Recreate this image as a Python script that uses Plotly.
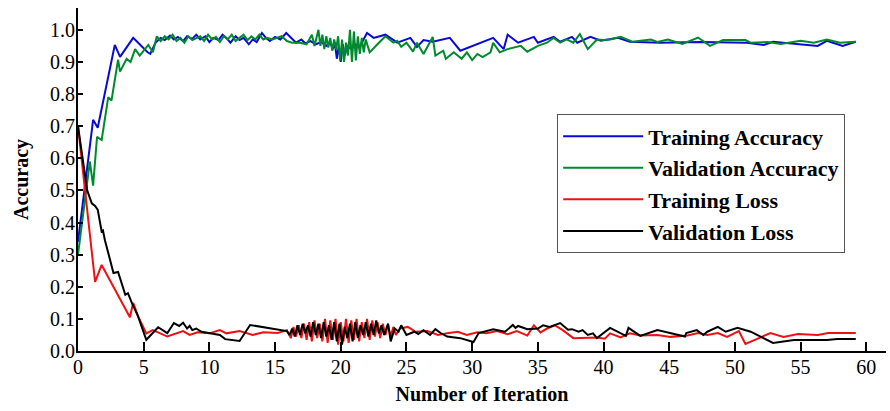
import plotly.graph_objects as go

# ---- data ----
train_acc_x = [0, 1.15, 1.5, 2.8, 3.2, 4.2, 5.3, 5.5, 5.9, 6.3, 6.6, 7.0, 7.3, 7.6, 8.0, 8.3, 8.7, 9.0, 9.3, 9.7,
               10.0, 10.3, 10.7, 11.0, 11.3, 11.6, 12.0, 12.3, 12.6, 13.0, 13.3, 13.6, 14.0, 14.3, 14.6, 15.0, 15.4,
               15.85, 16.6, 17.0, 17.3, 17.7, 18.1, 18.5, 18.9, 19.2, 19.4, 19.55, 19.7, 19.85, 20.0, 20.15, 20.3,
               20.5, 20.8, 21.1, 21.4, 22.0, 22.5, 23.4, 24.3, 25.3, 25.8, 26.3, 27.0, 28.3, 29.1, 31.6, 32.4, 32.7,
               33.5, 34.7, 35.0, 36.2, 36.7, 37.6, 38.0, 39.0, 39.8, 41.1, 42.0, 44.3, 47.4, 50.9, 52.2, 52.9, 56.3,
               57.0, 58.2, 59.2]
train_acc_y = [0.34, 0.72, 0.695, 0.953, 0.916, 0.975, 0.93, 0.925, 0.96, 0.975, 0.968, 0.982, 0.97, 0.978, 0.965,
               0.98, 0.972, 0.985, 0.97, 0.98, 0.962, 0.975, 0.968, 0.985, 0.975, 0.96, 0.98, 0.968, 0.975, 0.955,
               0.97, 0.962, 0.99, 0.975, 0.965, 0.978, 0.97, 0.99, 0.96, 0.97, 0.958, 0.965, 0.955, 0.962, 0.95,
               0.96, 0.94, 0.96, 0.91, 0.95, 0.90, 0.955, 0.92, 0.95, 0.94, 0.955, 0.945, 0.99, 0.975, 0.985, 0.96,
               0.975, 0.947, 0.968, 0.963, 0.975, 0.935, 0.975, 0.94, 0.985, 0.96, 0.978, 0.96, 0.978, 0.963, 0.978,
               0.96, 0.978, 0.966, 0.975, 0.963, 0.96, 0.962, 0.96, 0.953, 0.963, 0.95, 0.966, 0.95, 0.963]

val_acc_x = [0, 0.9, 1.15, 1.45, 1.8, 2.3, 2.55, 3.05, 3.2, 3.7, 4.0, 4.35, 4.7, 5.35, 5.7, 6.0, 6.3, 6.6, 6.9,
             7.2, 7.5, 7.8, 8.1, 8.4, 8.7, 9.0, 9.3, 9.6, 9.9, 10.2, 10.5, 10.8, 11.1, 11.4, 11.7, 12.0, 12.3, 12.6,
             12.9, 13.2, 13.5, 13.8, 14.1, 14.4, 14.8, 15.2, 15.5, 15.9, 16.3, 16.9, 17.4, 17.8, 18.0,
             18.3, 18.45, 18.6, 18.75, 18.9, 19.05, 19.2, 19.35, 19.5, 19.65, 19.8, 19.95, 20.1, 20.25, 20.4, 20.55,
             20.7, 20.85, 21.0, 21.15, 21.3, 21.45, 21.6, 21.75, 21.9, 22.2, 22.9, 23.4, 24.0, 24.3, 24.6, 25.0,
             25.5, 25.8, 26.3, 26.7, 27.0, 27.2, 27.8, 28.0, 28.6, 29.2, 29.6, 30.0, 30.4, 30.8, 31.4, 31.6, 32.1,
             32.7, 33.7, 34.2, 35.0, 35.7, 36.2, 36.7, 37.2, 37.7, 38.2, 38.8, 39.5, 40.0, 40.5, 41.3, 42.2, 43.6,
             44.1, 44.9, 46.0, 47.2, 48.1, 49.1, 50.8, 51.2, 52.5, 53.5, 55.0, 56.0, 57.0, 58.0, 59.2]
val_acc_y = [0.30, 0.59, 0.515, 0.667, 0.657, 0.79, 0.78, 0.907, 0.87, 0.91, 0.90, 0.94, 0.92, 0.953, 0.93, 0.98,
             0.965, 0.98, 0.97, 0.985, 0.965, 0.975, 0.96, 0.98, 0.968, 0.975, 0.98, 0.965, 0.985, 0.97, 0.978,
             0.962, 0.98, 0.97, 0.985, 0.965, 0.975, 0.985, 0.968, 0.98, 0.97, 0.985, 0.97, 0.975, 0.97, 0.975,
             0.98, 0.965, 0.96, 0.96, 0.955, 0.985, 0.95,
             1.0, 0.95, 0.985, 0.94, 0.98, 0.945, 0.975, 0.935, 0.97, 0.94, 0.98, 0.905, 0.97, 0.90, 0.96, 0.92,
             1.0, 0.90, 0.995, 0.905, 0.98, 0.925, 0.975, 0.93, 0.97, 0.93, 0.96, 0.98, 0.96, 0.966, 0.947, 0.96,
             0.932, 0.96, 0.925, 0.955, 0.978, 0.92, 0.935, 0.91, 0.93, 0.91, 0.93, 0.906, 0.925, 0.915, 0.93, 0.96,
             0.93, 0.94, 0.95, 0.932, 0.95, 0.96, 0.975, 0.96, 0.97, 0.96, 0.987, 0.94, 0.97, 0.968, 0.97, 0.978,
             0.963, 0.97, 0.962, 0.97, 0.956, 0.976, 0.95, 0.968, 0.968, 0.96, 0.962, 0.956, 0.966, 0.96, 0.97,
             0.96, 0.963]

train_loss_x = [0, 1.3, 1.8, 3.95, 4.2, 4.55, 5.2, 5.7, 6.8, 8.0, 8.5, 9.1, 10.0, 10.8, 11.3, 12.3, 13.3, 14.1,
                15.2, 15.9, 16.2, 16.4, 16.6, 16.8, 17.0, 17.2, 17.4, 17.6, 17.8, 18.0, 18.2, 18.4, 18.6, 18.8, 19.0,
                19.2, 19.4, 19.6, 19.8, 20.0, 20.2, 20.4, 20.6, 20.8, 21.0, 21.2, 21.4, 21.6, 21.8, 22.0, 22.2, 22.4,
                22.6, 22.8, 23.0, 23.2, 23.4, 23.6, 23.8, 24.0, 24.2, 24.5, 25.1, 25.7, 26.6, 27.4, 28.1, 28.9, 29.6,
                30.4, 31.1, 31.9, 32.7, 33.4, 34.2, 34.7, 35.2, 35.7, 36.3, 36.9, 37.7, 38.8, 39.5, 40.1, 40.5, 41.3,
                42.0, 42.8, 44.1, 45.1, 46.4, 47.2, 47.9, 48.7, 49.4, 50.3, 50.8, 51.7, 52.7, 53.7, 54.8, 56.3, 57.1,
                59.2]
train_loss_y = [0.70, 0.215, 0.268, 0.105, 0.15, 0.11, 0.055, 0.065, 0.045, 0.062, 0.05, 0.058, 0.055, 0.065,
                0.055, 0.062, 0.05, 0.058, 0.056, 0.065, 0.04, 0.075, 0.045, 0.08, 0.04, 0.085, 0.035, 0.09, 0.03,
                0.095, 0.04, 0.085, 0.03, 0.10, 0.025, 0.095, 0.035, 0.10, 0.02, 0.09, 0.03, 0.10, 0.025, 0.095,
                0.035, 0.10, 0.03, 0.09, 0.04, 0.10, 0.035, 0.095, 0.045, 0.09, 0.04, 0.085, 0.05, 0.08, 0.045,
                0.075, 0.05, 0.07, 0.075, 0.06, 0.062, 0.05, 0.055, 0.06, 0.05, 0.058, 0.055, 0.062, 0.052, 0.062,
                0.048, 0.08, 0.058, 0.07, 0.08, 0.065, 0.04, 0.04, 0.042, 0.038, 0.055, 0.042, 0.055, 0.048, 0.05,
                0.044, 0.048, 0.056, 0.05, 0.056, 0.044, 0.062, 0.022, 0.038, 0.056, 0.044, 0.053, 0.05, 0.056,
                0.056]

val_loss_x = [0, 0.7, 1.05, 1.3, 1.5, 1.8, 1.9, 2.05, 2.7, 3.05, 3.6, 3.8, 4.1, 4.3, 4.55, 5.2, 6.1, 6.8, 7.3,
              7.7, 8.0, 8.3, 8.5, 8.7, 9.0, 9.4, 10.0, 10.8, 11.2, 12.3, 13.1, 15.9, 16.1,
              16.3, 16.5, 16.7, 16.9, 17.1, 17.3, 17.5, 17.7, 17.9, 18.1, 18.3, 18.5, 18.7, 18.9, 19.1, 19.3, 19.5,
              19.7, 19.9, 20.1, 20.3, 20.5, 20.7, 20.9, 21.1, 21.3, 21.5, 21.7, 21.9, 22.1, 22.3, 22.5, 22.7, 22.9,
              23.1, 23.3, 23.6, 23.8, 24.1, 24.4, 24.6, 25.0, 25.6, 25.9, 26.3, 26.8, 27.2, 27.6, 28.1, 29.1, 30.1,
              30.5, 30.9, 31.6, 32.5, 33.1, 33.3, 33.5, 34.2, 35.0, 35.4, 35.9, 36.7, 37.3, 37.6, 38.1, 38.4, 38.8,
              39.2, 39.5, 40.5, 41.7, 41.9, 42.8, 44.1, 45.1, 46.2, 46.3, 47.1, 47.6, 47.9, 48.7, 49.3, 50.2, 51.2,
              52.9, 54.5, 57.0, 57.8, 59.2]
val_loss_y = [0.70, 0.50, 0.46, 0.452, 0.44, 0.372, 0.375, 0.345, 0.243, 0.246, 0.175, 0.18, 0.15, 0.13, 0.11,
              0.035, 0.074, 0.056, 0.087, 0.078, 0.088, 0.07, 0.078, 0.065, 0.07, 0.06, 0.056, 0.05, 0.037, 0.031,
              0.081, 0.062, 0.05,
              0.07, 0.045, 0.08, 0.05, 0.085, 0.055, 0.08, 0.045, 0.09, 0.05, 0.085, 0.04, 0.09, 0.045, 0.08, 0.035,
              0.09, 0.03, 0.085, 0.02, 0.075, 0.04, 0.085, 0.03, 0.09, 0.04, 0.08, 0.05, 0.09, 0.045, 0.085, 0.05,
              0.095, 0.055, 0.08, 0.05, 0.085, 0.03, 0.07, 0.06, 0.08, 0.05, 0.06, 0.053, 0.065, 0.05, 0.068, 0.056,
              0.045, 0.04, 0.028, 0.056, 0.06, 0.068, 0.06, 0.081, 0.072, 0.078, 0.068, 0.07, 0.08, 0.075, 0.087,
              0.066, 0.068, 0.06, 0.065, 0.05, 0.055, 0.04, 0.072, 0.047, 0.072, 0.047, 0.065, 0.056, 0.045, 0.056,
              0.065, 0.05, 0.06, 0.075, 0.06, 0.072, 0.06, 0.025, 0.034, 0.034, 0.037, 0.037]

series_names = ["Training Accuracy", "Validation Accuracy", "Training Loss", "Validation Loss"]
series_colors = ["#0a0ad2", "#008a2e", "#ee1111", "#000000"]
x_ticks = [0, 5, 10, 15, 20, 25, 30, 35, 40, 45, 50, 55, 60]
y_ticks = [0.0, 0.1, 0.2, 0.3, 0.4, 0.5, 0.6, 0.7, 0.8, 0.9, 1.0]

SERIF = "Liberation Serif"

fig = go.Figure()
for name, color, xs, ys in zip(series_names, series_colors,
                               [train_acc_x, val_acc_x, train_loss_x, val_loss_x],
                               [train_acc_y, val_acc_y, train_loss_y, val_loss_y]):
    fig.add_trace(go.Scatter(x=xs, y=ys, mode="lines", name=name, legendgroup=name,
                             line=dict(color=color, width=2)))

fig.update_layout(
    width=890, height=411,
    margin=dict(l=78, r=4, t=8, b=60),
    paper_bgcolor="white", plot_bgcolor="white",
    font=dict(family=SERIF, size=20, color="black"),
    showlegend=True,
    legend=dict(x=0.593, y=0.69, xanchor="left", yanchor="top",
                bgcolor="white", bordercolor="#555555", borderwidth=1,
                font=dict(family=SERIF, size=22, color="black", weight="bold"),
                tracegroupgap=0, itemwidth=80),
)
fig.update_xaxes(range=[0, 61.5], tickvals=x_ticks, ticks="inside", ticklen=9, tickwidth=1.5,
                 tickcolor="black", showline=True, linecolor="black", linewidth=2,
                 showgrid=False, zeroline=False, automargin=False, ticklabelstandoff=-3,
                 tickfont=dict(family=SERIF, size=20, color="black"),
                 title=dict(text="Number of Iteration", standoff=10,
                            font=dict(family=SERIF, size=20, color="black", weight="bold")))
fig.update_yaxes(range=[0, 1.068], tickvals=y_ticks, tickformat=".1f", ticks="inside", ticklen=5,
                 tickwidth=1.5, tickcolor="black", showline=True, linecolor="black", linewidth=2,
                 showgrid=False, zeroline=False, automargin=False, ticklabelstandoff=-3,
                 tickfont=dict(family=SERIF, size=20, color="black"),
                 title=dict(text="Accuracy", standoff=16,
                            font=dict(family=SERIF, size=20, color="black", weight="bold")))

fig.write_html("out.html", post_script="document.body.style.margin='0px';",
               config={"displayModeBar": False})
